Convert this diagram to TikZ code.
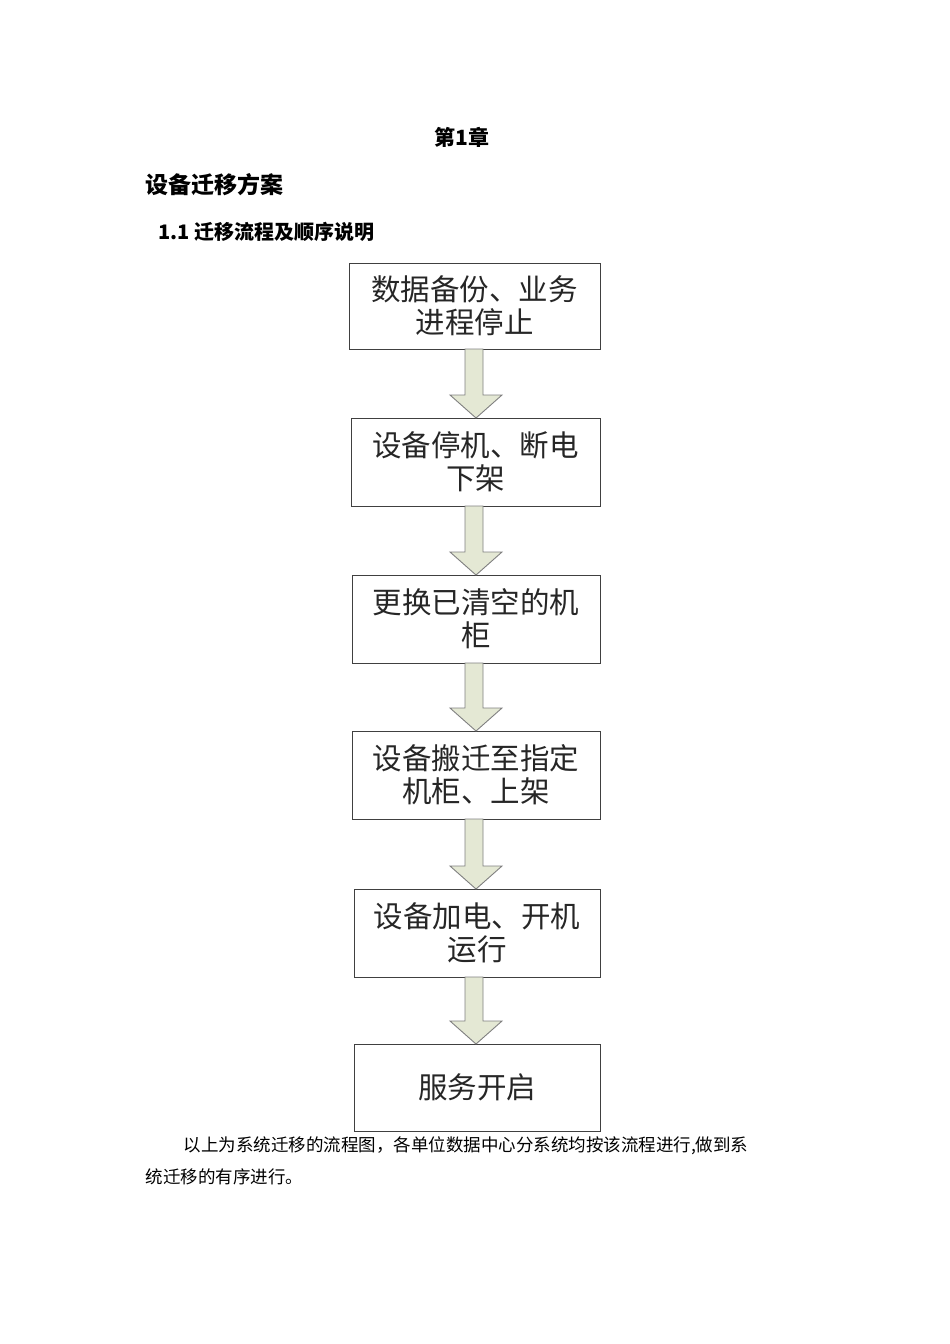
\documentclass[tikz,border=0pt]{standalone}
\usepackage{fontspec}
\newfontfamily\cjk{Noto Sans CJK SC}
\definecolor{arfill}{HTML}{E4E8D4}
\begin{document}
\begin{tikzpicture}[x=1pt,y=-1pt,
 stepbox/.style={draw=black!75,line width=1pt,fill=white},
 btxt/.style={font=\cjk\fontsize{29.5}{33}\selectfont,align=center,text=black!85},
 ptxt/.style={font=\cjk\fontsize{17.5}{20}\selectfont,anchor=west},
 blk/.style={fill=arfill,draw=black!50,line width=0.9pt}]
\useasboundingbox (0,0) rectangle (950,1344);
\fill[white] (0,0) rectangle (950,1344);
\node[font=\cjk\bfseries\fontsize{21}{24}\selectfont] (t1) at (462,137) {第1章};
\node[font=\cjk\bfseries\fontsize{23}{25}\selectfont,anchor=west] (t2) at (142,185) {设备迁移方案};
\node[font=\cjk\bfseries\fontsize{20}{23}\selectfont,anchor=west] (t3) at (155,232) {1.1 迁移流程及顺序说明};
\def\bx#1#2#3#4#5{\draw[stepbox] (#2,#3) rectangle (600,#4); \node[btxt] (#1) at ({(#2+600)/2},{(#3+#4)/2}) {#5};}
\bx{b1}{349}{263}{349}{数据备份、业务\\进程停止}
\bx{b2}{351}{418}{506}{设备停机、断电\\下架}
\bx{b3}{352}{575}{663}{更换已清空的机\\柜}
\bx{b4}{352}{731}{819}{设备搬迁至指定\\机柜、上架}
\bx{b5}{354}{889}{977}{设备加电、开机\\运行}
\bx{b6}{354}{1044}{1131}{服务开启}
\def\ar#1#2{\draw[blk] (465,#1) -- (483,#1) -- (483,{#2-23}) -- (502,{#2-23}) -- (476,#2) -- (450,{#2-23}) -- (465,{#2-23}) -- cycle;}
\ar{349}{418}
\ar{506}{575}
\ar{663}{731}
\ar{819}{889}
\ar{977}{1044}
\node[ptxt] (p1) at (180,1146) {以上为系统迁移的流程图，各单位数据中心分系统均按该流程进行,做到系};
\node[ptxt] (p2) at (142,1177) {统迁移的有序进行。};
\end{tikzpicture}
\end{document}
